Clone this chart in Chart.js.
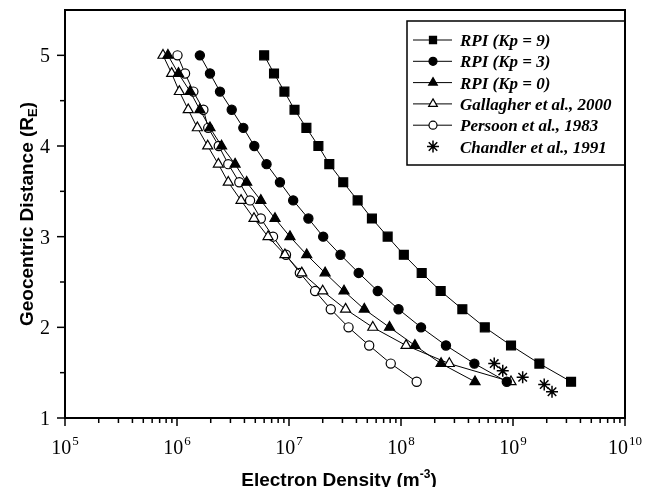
<!DOCTYPE html>
<html>
<head>
<meta charset="utf-8">
<script src="https://cdn.jsdelivr.net/npm/chart.js@4/dist/chart.umd.min.js"></script>
<style>
  html, body { margin: 0; padding: 0; background: #fff; }
  #wrap { width: 663px; height: 487px; }
</style>
</head>
<body>
<div id="wrap"><canvas id="density-chart" width="663" height="487"></canvas></div>
<script>
// ─── Data ─────────────────────────────────────────────────────────────────────
const yLevels   = [5.0, 4.8, 4.6, 4.4, 4.2, 4.0, 3.8, 3.6, 3.4, 3.2, 3.0, 2.8, 2.6, 2.4, 2.2, 2.0, 1.8, 1.6, 1.4];
const kp9Dens   = [6.0e6, 7.35e6, 9.1e6, 1.12e7, 1.43e7, 1.83e7, 2.29e7, 3.05e7, 4.1e7, 5.5e7, 7.6e7, 1.06e8, 1.53e8, 2.26e8, 3.53e8, 5.6e8, 9.6e8, 1.72e9, 3.3e9];
const kp3Dens   = [1.6e6, 1.97e6, 2.42e6, 3.08e6, 3.91e6, 4.9e6, 6.3e6, 8.3e6, 1.09e7, 1.49e7, 2.02e7, 2.88e7, 4.19e7, 6.2e7, 9.5e7, 1.51e8, 2.52e8, 4.52e8, 8.8e8];
const kp0Dens   = [8.3e5, 1.03e6, 1.31e6, 1.6e6, 1.97e6, 2.5e6, 3.3e6, 4.19e6, 5.6e6, 7.5e6, 1.02e7, 1.44e7, 2.1e7, 3.1e7, 4.7e7, 7.9e7, 1.33e8, 2.28e8, 4.58e8];
const gallDens  = [7.5e5, 8.96e5, 1.05e6, 1.26e6, 1.52e6, 1.88e6, 2.34e6, 2.87e6, 3.73e6, 4.87e6, 6.5e6, 9.2e6, 1.3e7, 2.0e7, 3.2e7, 5.6e7, 1.11e8, 2.7e8, 9.6e8];
const persDens  = [1.01e6, 1.18e6, 1.4e6, 1.72e6, 1.9e6, 2.36e6, 2.87e6, 3.6e6, 4.49e6, 5.6e6, 7.2e6, 9.4e6, 1.25e7, 1.71e7, 2.36e7, 3.4e7, 5.2e7, 8.1e7, 1.38e8];
const chandDens = [6.8e8, 8.1e8, 1.22e9, 1.9e9, 2.23e9];
const chandDist = [1.6, 1.52, 1.45, 1.37, 1.29];

const xTickExps  = [5, 6, 7, 8, 9, 10];
const yTickVals  = [1, 2, 3, 4, 5];
const yMinorVals = [1.5, 2.5, 3.5, 4.5];

const toPts = (xs, ys) => xs.map((x, i) => ({ x, y: ys[i] }));

// ─── Axes, labels, frame and legend ───────────────────────────────────────────
const frameAndLegend = {
  id: 'frameAndLegend',
  afterDraw(chart) {
    const { ctx, chartArea: a, scales } = chart;
    const xs = scales.x, ys = scales.y;
    ctx.save();
    ctx.strokeStyle = '#000';
    ctx.fillStyle = '#000';

    // frame
    ctx.lineWidth = 2;
    ctx.strokeRect(a.left, a.top, a.right - a.left, a.bottom - a.top);

    // x ticks (major + minor per decade)
    ctx.lineWidth = 1.5;
    xTickExps.forEach(e => {
      const px = xs.getPixelForValue(Math.pow(10, e));
      ctx.beginPath(); ctx.moveTo(px, a.bottom); ctx.lineTo(px, a.bottom + 8); ctx.stroke();
      if (e < xTickExps[xTickExps.length - 1]) {
        for (let k = 2; k <= 9; k++) {
          const mx = xs.getPixelForValue(k * Math.pow(10, e));
          ctx.beginPath(); ctx.moveTo(mx, a.bottom); ctx.lineTo(mx, a.bottom + 5); ctx.stroke();
        }
      }
    });
    // y ticks
    yTickVals.forEach(v => {
      const py = ys.getPixelForValue(v);
      ctx.beginPath(); ctx.moveTo(a.left, py); ctx.lineTo(a.left - 8, py); ctx.stroke();
    });
    yMinorVals.forEach(v => {
      const py = ys.getPixelForValue(v);
      ctx.beginPath(); ctx.moveTo(a.left, py); ctx.lineTo(a.left - 5, py); ctx.stroke();
    });

    // x tick labels: 10^n
    ctx.textBaseline = 'alphabetic';
    ctx.textAlign = 'left';
    xTickExps.forEach(e => {
      const px = xs.getPixelForValue(Math.pow(10, e));
      ctx.font = '20px "Liberation Serif", serif';
      const wBase = ctx.measureText('10').width;
      ctx.font = '13px "Liberation Serif", serif';
      const wExp = ctx.measureText(String(e)).width;
      const x0 = px - (wBase + 1 + wExp) / 2;
      ctx.font = '20px "Liberation Serif", serif';
      ctx.fillText('10', x0, a.bottom + 36);
      ctx.font = '13px "Liberation Serif", serif';
      ctx.fillText(String(e), x0 + wBase + 1, a.bottom + 27);
    });

    // y tick labels
    ctx.font = '20px "Liberation Serif", serif';
    ctx.textAlign = 'right';
    yTickVals.forEach(v => {
      ctx.fillText(String(v), a.left - 15, ys.getPixelForValue(v) + 7);
    });

    // x title
    ctx.textAlign = 'left';
    ctx.font = 'bold 19px "Liberation Sans", Arial, sans-serif';
    const t1 = 'Electron Density (m', t3 = ')';
    const w1 = ctx.measureText(t1).width, w3 = ctx.measureText(t3).width;
    ctx.font = 'bold 12px "Liberation Sans", Arial, sans-serif';
    const t2 = '-3', w2 = ctx.measureText(t2).width;
    let tx = 339 - (w1 + w2 + w3) / 2;
    const tb = 486;
    ctx.font = 'bold 19px "Liberation Sans", Arial, sans-serif';
    ctx.fillText(t1, tx, tb);
    ctx.font = 'bold 12px "Liberation Sans", Arial, sans-serif';
    ctx.fillText(t2, tx + w1, tb - 8);
    ctx.font = 'bold 19px "Liberation Sans", Arial, sans-serif';
    ctx.fillText(t3, tx + w1 + w2, tb);

    // y title (rotated)
    ctx.save();
    ctx.translate(33, 214);
    ctx.rotate(-Math.PI / 2);
    const s1 = 'Geocentric Distance (R', s3 = ')';
    const v1 = ctx.measureText(s1).width, v3 = ctx.measureText(s3).width;
    ctx.font = 'bold 13px "Liberation Sans", Arial, sans-serif';
    const s2 = 'E', v2 = ctx.measureText(s2).width;
    const sx = -(v1 + v2 + v3) / 2;
    ctx.font = 'bold 19px "Liberation Sans", Arial, sans-serif';
    ctx.fillText(s1, sx, 0);
    ctx.font = 'bold 13px "Liberation Sans", Arial, sans-serif';
    ctx.fillText(s2, sx + v1, 4);
    ctx.font = 'bold 19px "Liberation Sans", Arial, sans-serif';
    ctx.fillText(s3, sx + v1 + v2, 0);
    ctx.restore();

    // legend box
    const lx = 407, ly = 21, lw = a.right - lx, lh = 144;
    ctx.lineWidth = 1.5;
    ctx.strokeStyle = '#000';
    ctx.strokeRect(lx, ly, lw, lh);
    ctx.font = 'italic bold 17px "Liberation Serif", "Times New Roman", serif';
    chart.data.datasets.forEach((ds, i) => {
      const cy = 40 + i * 21.3;
      if (ds.showLine !== false) {
        ctx.lineWidth = 1;
        ctx.beginPath(); ctx.moveTo(413, cy); ctx.lineTo(452, cy); ctx.stroke();
      }
      ctx.save();
      ctx.fillStyle = ds.pointBackgroundColor;
      ctx.strokeStyle = ds.pointBorderColor;
      ctx.lineWidth = ds.pointBorderWidth;
      Chart.helpers.drawPoint(ctx, {
        pointStyle: ds.pointStyle,
        radius: ds.legendRadius,
        rotation: 0,
        borderWidth: ds.pointBorderWidth
      }, 433, cy);
      ctx.restore();
      ctx.fillStyle = '#000';
      ctx.textAlign = 'left';
      ctx.fillText(ds.label, 460, cy + 6);
    });

    ctx.restore();
  }
};

const lineSet = (label, xs, style, filled, radius, legendRadius) => ({
  label,
  data: toPts(xs, yLevels),
  showLine: true,
  borderColor: '#000',
  borderWidth: 1,
  pointStyle: style,
  pointRadius: radius,
  pointBackgroundColor: filled ? '#000' : '#fff',
  pointBorderColor: '#000',
  pointBorderWidth: 1.2,
  legendRadius,
});

new Chart(document.getElementById('density-chart'), {
  type: 'scatter',
  data: {
    datasets: [
      lineSet('RPI (Kp = 9)', kp9Dens, 'rect', true, 6.3, 5),
      lineSet('RPI (Kp = 3)', kp3Dens, 'circle', true, 4.6, 4),
      lineSet('RPI (Kp = 0)', kp0Dens, 'triangle', true, 5.8, 5),
      lineSet('Gallagher et al., 2000', gallDens, 'triangle', false, 5.8, 5),
      lineSet('Persoon et al., 1983', persDens, 'circle', false, 4.6, 4),
      {
        label: 'Chandler et al., 1991',
        data: toPts(chandDens, chandDist),
        showLine: false,
        pointStyle: 'star',
        pointRadius: 6,
        pointBackgroundColor: '#000',
        pointBorderColor: '#000',
        pointBorderWidth: 1.5,
        legendRadius: 6,
      }
    ]
  },
  options: {
    responsive: false,
    animation: false,
    devicePixelRatio: 1,
    layout: { padding: { left: 65, right: 38, top: 10, bottom: 69 } },
    plugins: { legend: { display: false }, tooltip: { enabled: false } },
    scales: {
      x: { type: 'logarithmic', min: 1e5, max: 1e10, display: false },
      y: { type: 'linear', min: 1, max: 5.5, display: false }
    }
  },
  plugins: [frameAndLegend]
});
</script>
</body>
</html>
